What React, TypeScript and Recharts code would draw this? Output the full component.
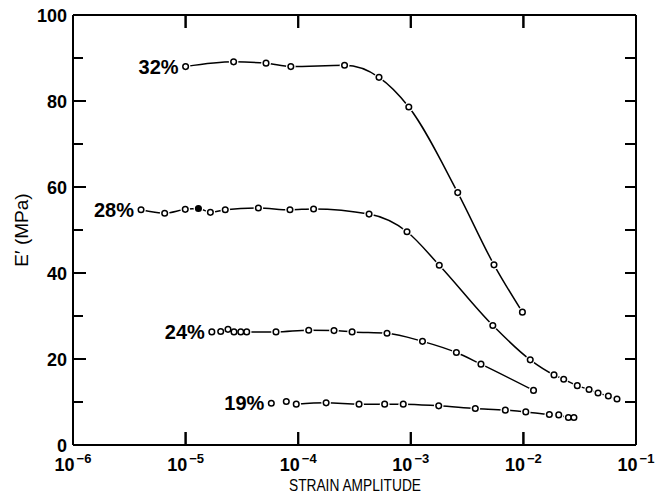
import { ComposedChart, Line, Scatter, XAxis, YAxis } from "recharts";

// strain amplitude (x) and storage modulus E' in MPa (y) per filler level
const strain32 = [1.0e-5, 2.67e-5, 5.18e-5, 8.6e-5, 2.58e-4, 5.22e-4, 9.6e-4, 2.61e-3, 5.48e-3, 9.8e-3];
const modulus32 = [88.0, 89.1, 88.8, 88.0, 88.3, 85.5, 78.6, 58.7, 41.9, 30.9];

const strain28 = [
  4.02e-6, 6.52e-6, 9.93e-6, 1.3e-5, 1.66e-5, 2.25e-5, 4.43e-5, 8.45e-5, 1.37e-4, 4.26e-4, 9.25e-4,
  1.79e-3, 5.35e-3, 1.15e-2, 1.87e-2, 2.28e-2, 3.01e-2, 3.83e-2, 4.6e-2, 5.68e-2, 6.78e-2,
];
const modulus28 = [
  54.7, 53.9, 54.8, 55.0, 54.1, 54.7, 55.1, 54.7, 54.9, 53.7, 49.6, 41.8, 27.8, 19.8, 16.3, 15.3,
  13.8, 12.9, 12.1, 11.4, 10.7,
];

const strain24 = [
  1.71e-5, 2.05e-5, 2.38e-5, 2.69e-5, 3.09e-5, 3.49e-5, 6.35e-5, 1.24e-4, 2.08e-4, 3.01e-4, 6.15e-4,
  1.27e-3, 2.54e-3, 4.2e-3, 1.23e-2,
];
const modulus24 = [26.3, 26.4, 26.9, 26.3, 26.3, 26.3, 26.3, 26.7, 26.6, 26.3, 26.0, 24.1, 21.5, 18.8, 12.7];

const strain19 = [
  5.77e-5, 7.84e-5, 9.61e-5, 1.77e-4, 3.47e-4, 5.86e-4, 8.57e-4, 1.77e-3, 3.74e-3, 6.91e-3, 1.05e-2,
  1.7e-2, 2.06e-2, 2.51e-2, 2.81e-2,
];
const modulus19 = [9.7, 10.1, 9.5, 9.8, 9.5, 9.5, 9.5, 9.1, 8.5, 8.1, 7.7, 7.1, 7.0, 6.4, 6.4];

const seriesLabels = ["32%", "28%", "24%", "19%"];
// index of the first point the fitted curve starts from
const curveStart = [0, 0, 5, 2];
// the one solid marker on the 28% curve
const filled28Index = 3;

const decades = [1e-6, 1e-5, 1e-4, 1e-3, 1e-2, 1e-1];
const yTicks = [0, 10, 20, 30, 40, 50, 60, 70, 80, 90, 100];

const zip = (xs: number[], ys: number[]) => xs.map((x, i) => ({ x, y: ys[i] }));

const series = [
  zip(strain32, modulus32),
  zip(strain28, modulus28),
  zip(strain24, modulus24),
  zip(strain19, modulus19),
];

const X_MIN = decades[0];
const X_MAX = decades[decades.length - 1];
const Y_MIN = yTicks[0];
const Y_MAX = yTicks[yTicks.length - 1];

// inward tick marks on all four sides of the frame
const leftMarks = yTicks.map((y) => ({ x: X_MIN, y }));
const rightMarks = yTicks.map((y) => ({ x: X_MAX, y }));
const bottomMarks = decades.map((x) => ({ x, y: Y_MIN }));
const topMarks = decades.map((x) => ({ x, y: Y_MAX }));

const FONT = "'Liberation Sans', Arial, Helvetica, sans-serif";
const axisLineStyle = { stroke: "#000", strokeWidth: 2 };
const tickLineStyle = { stroke: "#000", strokeWidth: 2 };

const mark = (dx: (p: any) => number, dy: number) => (p: any) => (
  <path d={`M${p.cx},${p.cy}l${dx(p)},${dy}`} fill="none" stroke="#000" strokeWidth={2} />
);
const leftMark = mark((p) => (p.payload.y % 20 === 0 ? 13 : 10), 0);
const rightMark = mark(() => -11, 0);
const bottomMark = mark(() => 0, -13);
const topMark = mark(() => 0, 13);

const BottomTick = (props: any) => {
  const { x, y, payload } = props;
  const exp = Math.round(Math.log10(payload.value));
  return (
    <text x={x} y={y + 37} textAnchor="middle" fontFamily={FONT} fontWeight="bold" fill="#000">
      <tspan fontSize={18}>10</tspan>
      <tspan fontSize={13} dx={2} dy={-8}>
        {"\u2212" + Math.abs(exp)}
      </tspan>
    </text>
  );
};

const LeftTick = (props: any) => {
  const { x, y, payload } = props;
  if (payload.value % 20 !== 0) return <g />;
  return (
    <text x={x - 17} y={y + 6.5} textAnchor="end" fontFamily={FONT} fontWeight="bold" fontSize={18} fill="#000">
      {payload.value}
    </text>
  );
};

const NoLabel = () => <g />;

const gapDot = (props: any) => <circle cx={props.cx} cy={props.cy} r={4.8} fill="#fff" />;

const makeRing = (label: string, firstX: number, filledX?: number) => (props: any) => {
  const { cx, cy, payload } = props;
  const solid = filledX !== undefined && payload.x === filledX;
  return (
    <g>
      <circle cx={cx} cy={cy} r={2.8} fill={solid ? "#000" : "#fff"} stroke="#000" strokeWidth={1.5} />
      {payload.x === firstX && (
        <text x={cx - 7} y={cy + 7} textAnchor="end" fontFamily={FONT} fontWeight="bold" fontSize={20} fill="#000">
          {label}
        </text>
      )}
    </g>
  );
};

export default function App() {
  return (
    <div style={{ position: "absolute", left: 0, top: 0 }}>
      <ComposedChart width={655} height={496} margin={{ top: 0, right: 0, bottom: 0, left: 0 }}>
        <XAxis
          dataKey="x"
          type="number"
          scale="log"
          domain={[X_MIN, X_MAX]}
          ticks={decades}
          allowDataOverflow
          height={51}
          tickSize={-13}
          tickLine={tickLineStyle}
          tick={<BottomTick />}
          axisLine={axisLineStyle}
        />
        <XAxis
          xAxisId="top"
          orientation="top"
          dataKey="x"
          type="number"
          scale="log"
          domain={[X_MIN, X_MAX]}
          ticks={decades}
          allowDataOverflow
          height={15}
          tickSize={-13}
          tickLine={tickLineStyle}
          tick={<NoLabel />}
          axisLine={axisLineStyle}
        />
        <YAxis
          dataKey="y"
          type="number"
          domain={[Y_MIN, Y_MAX]}
          ticks={yTicks.filter((v) => v % 20 === 0)}
          allowDataOverflow
          width={73}
          tickSize={-13}
          tickLine={tickLineStyle}
          tick={<LeftTick />}
          axisLine={axisLineStyle}
        />
        <YAxis
          yAxisId="right"
          orientation="right"
          dataKey="y"
          type="number"
          domain={[Y_MIN, Y_MAX]}
          ticks={yTicks}
          allowDataOverflow
          width={19}
          tickSize={-11}
          tickLine={tickLineStyle}
          tick={<NoLabel />}
          axisLine={axisLineStyle}
        />
        {series.map((pts, i) => (
          <Line
            key={"line" + i}
            data={pts.slice(curveStart[i])}
            dataKey="y"
            type="monotone"
            stroke="#000"
            strokeWidth={1.5}
            dot={false}
            activeDot={false}
            isAnimationActive={false}
          />
        ))}
        {series.map((pts, i) => (
          <Scatter key={"gap" + i} data={pts} dataKey="y" shape={gapDot} isAnimationActive={false} />
        ))}
        {series.map((pts, i) => (
          <Scatter
            key={"ring" + i}
            data={pts}
            dataKey="y"
            shape={makeRing(seriesLabels[i], pts[0].x, i === 1 ? pts[filled28Index].x : undefined)}
            isAnimationActive={false}
          />
        ))}
        <Scatter data={leftMarks} dataKey="y" shape={leftMark} isAnimationActive={false} />
        <Scatter data={rightMarks} dataKey="y" shape={rightMark} isAnimationActive={false} />
        <Scatter data={bottomMarks} dataKey="y" shape={bottomMark} isAnimationActive={false} />
        <Scatter data={topMarks} dataKey="y" shape={topMark} isAnimationActive={false} />
        <text
          x={21}
          y={230}
          transform="rotate(-90, 21, 230)"
          dy={7}
          textAnchor="middle"
          fontFamily={FONT}
          fontSize={19}
          fill="#000"
        >
          E′ (MPa)
        </text>
        <text
          x={355}
          y={491}
          textAnchor="middle"
          fontFamily={FONT}
          fontSize={16}
          textLength={132}
          lengthAdjust="spacingAndGlyphs"
          fill="#000"
        >
          STRAIN AMPLITUDE
        </text>
      </ComposedChart>
    </div>
  );
}
